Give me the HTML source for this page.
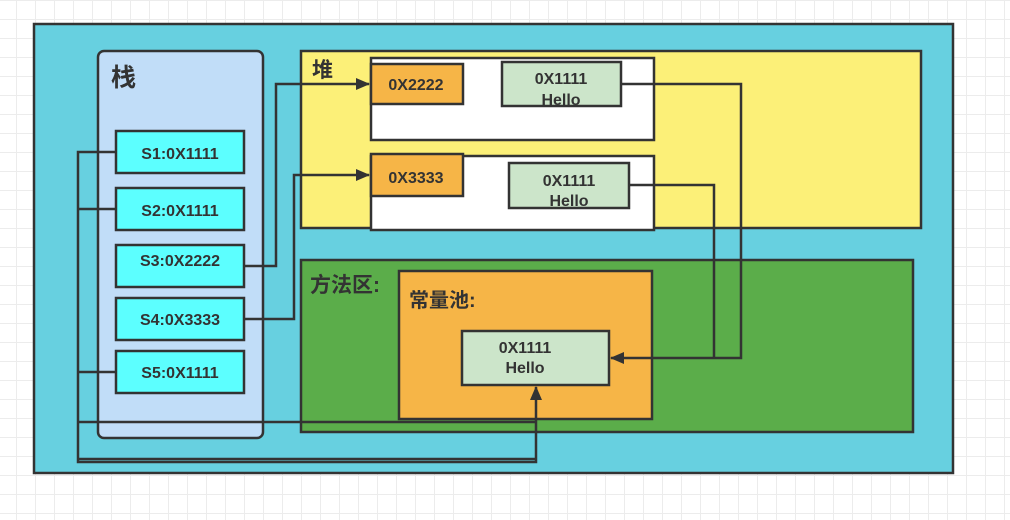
<!DOCTYPE html>
<html><head><meta charset="utf-8"><style>
html,body{margin:0;padding:0;width:1010px;height:520px;overflow:hidden;background:#fff;
background-image:linear-gradient(#ececec 1px,transparent 1px),linear-gradient(90deg,#ececec 1px,transparent 1px);background-size:19px 19px;background-position:-3px 0;}
svg{position:absolute;left:0;top:0}
text{font-family:"Liberation Sans","Noto Sans CJK SC",sans-serif;font-weight:bold;fill:#333}
</style></head><body>
<svg width="1010" height="520" viewBox="0 0 1010 520">
<defs><marker id="b" markerWidth="14" markerHeight="12" refX="13" refY="6" orient="auto" markerUnits="userSpaceOnUse"><path d="M0,0 L14,6 L0,12 Z" fill="#333"/></marker></defs>
<g stroke="#333" stroke-width="2.5">
<rect x="34" y="24" width="919" height="449" fill="#67D0E0"/>
<rect x="98" y="51" width="165" height="387" rx="6" fill="#C1DDF8"/>
<rect x="301" y="51" width="620" height="177" fill="#FCF078"/>
<rect x="371" y="58" width="283" height="82" fill="#fff"/>
<rect x="371" y="64" width="92" height="40" fill="#F6B547"/>
<rect x="502" y="62" width="119" height="44" fill="#CCE5CA"/>
<rect x="371" y="156" width="283" height="74" fill="#fff"/>
<rect x="371" y="154" width="92" height="42" fill="#F6B547"/>
<rect x="509" y="163" width="120" height="45" fill="#CCE5CA"/>
<rect x="301" y="260" width="612" height="172" fill="#5BAD4A"/>
<rect x="399" y="271" width="253" height="148" fill="#F6B547"/>
<rect x="462" y="331" width="147" height="54" fill="#CCE5CA"/>
<rect x="116" y="131" width="128" height="42" fill="#5CFFFF"/>
<rect x="116" y="188" width="128" height="42" fill="#5CFFFF"/>
<rect x="116" y="245" width="128" height="42" fill="#5CFFFF"/>
<rect x="116" y="298" width="128" height="42" fill="#5CFFFF"/>
<rect x="116" y="351" width="128" height="42" fill="#5CFFFF"/>
</g>
<g stroke="#333" stroke-width="2.5" fill="none">
<path d="M116,152 H78 V462 H536 V387" marker-end="url(#b)"/>
<path d="M116,209 H78"/><path d="M116,372 H78"/>
<path d="M78,422 H536"/>
<path d="M78,459 H536"/>
<path d="M244,266 H276 V84 H369" marker-end="url(#b)"/>
<path d="M244,319 H294 V175 H369" marker-end="url(#b)"/>
<path d="M621,84 H741 V358 H611" marker-end="url(#b)"/>
<path d="M629,185 H714 V358"/>
</g>
<text x="111" y="86" font-size="25">栈</text>
<text x="312" y="77" font-size="21">堆</text>
<text x="310" y="292" font-size="21">方法区:</text>
<text x="409" y="307" font-size="20">常量池:</text>
<g font-size="16" text-anchor="middle">
<text x="180" y="159">S1:0X1111</text>
<text x="180" y="216">S2:0X1111</text>
<text x="180" y="266">S3:0X2222</text>
<text x="180" y="325">S4:0X3333</text>
<text x="180" y="378">S5:0X1111</text>
<text x="416" y="90">0X2222</text>
<text x="416" y="183">0X3333</text>
<text x="561" y="84">0X1111</text><text x="561" y="105">Hello</text>
<text x="569" y="186">0X1111</text><text x="569" y="206">Hello</text>
<text x="525" y="353">0X1111</text><text x="525" y="373">Hello</text>
</g>
</svg>
</body></html>
